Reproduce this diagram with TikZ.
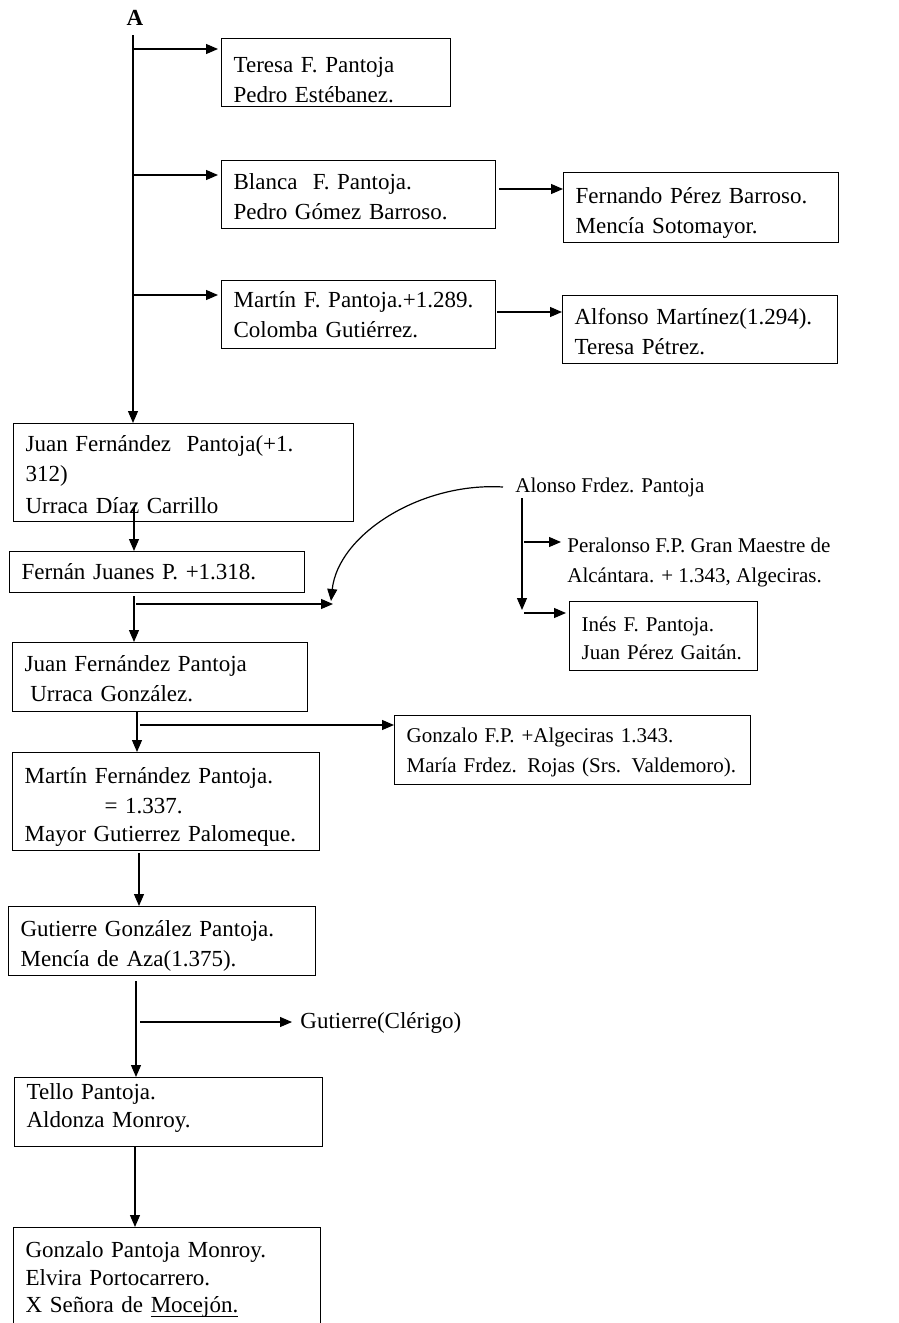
\documentclass[tikz,border=0pt]{standalone}
\usepackage{fontspec}
\setmainfont{Liberation Serif}
\usetikzlibrary{arrows.meta,calc}
\newcommand\ulword[1]{\setbox0\hbox{#1}\rlap{\rule[-2.4pt]{\wd0}{0.55pt}}\box0}
\begin{document}
\hyphenpenalty=10000
\begin{tikzpicture}[x=0.5pt,y=-0.5pt,
  every node/.style={font=\fontsize{11.5}{15}\selectfont},
  small/.style={font=\fontsize{10.5}{15}\selectfont},
  pbox/.style={draw, line width=0.6pt, anchor=north west, align=left, inner xsep=6pt, inner ysep=2pt},
  arr/.style={line width=0.6pt, -{Triangle[length=6pt,width=5pt]}},
  free/.style={inner xsep=0pt, inner ysep=0pt, align=left}]
\useasboundingbox (0,0) rectangle (899,1323);
\clip (0,0) rectangle (899,1323);
\fill[white] (0,0) rectangle (899,1323);

% nodes
\node[font=\fontsize{11.5}{15}\selectfont\bfseries, inner sep=0pt] (A) at (135,18) {A};
\node[pbox, inner ysep=0.5pt, text width=102.5pt, minimum height=34pt] (teresa) at (221,38) {\rule{0pt}{15pt}Teresa F. Pantoja\\Pedro Estébanez.};
\node[pbox, text width=125pt, minimum height=34pt] (blanca) at (221,160) {\rule{0pt}{10pt}Blanca~ F. Pantoja.\\Pedro Gómez Barroso.};
\node[pbox, text width=125.5pt, minimum height=34.5pt] (fernando) at (563,172) {\rule{0pt}{13.5pt}Fernando Pérez Barroso.\\Mencía Sotomayor.};
\node[pbox, text width=125pt, minimum height=34pt] (martinf) at (221,280) {Martín F. Pantoja.+1.289.\\Colomba Gutiérrez.};
\node[pbox, text width=125.5pt, minimum height=34pt] (alfonso) at (562,295) {\rule{0pt}{10.5pt}Alfonso Martínez(1.294).\\Teresa Pétrez.};
\node[pbox, text width=158pt, minimum height=49pt] (juan1) at (13,423) {\rule{0pt}{10pt}Juan Fernández~ Pantoja(+1.\\312)\\[1pt]Urraca Díaz Carrillo};
\node[pbox, text width=135.5pt, minimum height=20.5pt] (fernan) at (9,551) {Fernán Juanes P. +1.318.};
\node[pbox, text width=135.5pt, minimum height=34.5pt] (juan2) at (12,642) {\rule{0pt}{10pt}Juan Fernández Pantoja\\\hspace*{0.25em}Urraca González.};
\node[pbox, small, text width=166pt, minimum height=34.5pt] (gonzalofp) at (394,715) {\rule{0pt}{10pt}Gonzalo F.P. +Algeciras 1.343.\\María Frdez. Rojas (Srs. Valdemoro).};
\node[pbox, small, text width=82pt, minimum height=34.5pt] (ines) at (569,601) {\rule{0pt}{9.5pt}Inés F. Pantoja.\\[-1pt]Juan Pérez Gaitán.};
\node[pbox, text width=141.5pt, minimum height=49pt] (martin2) at (12,752) {\rule{0pt}{13.5pt}Martín Fernández Pantoja.\\\hspace*{40pt}= 1.337.\\[-1pt]Mayor Gutierrez Palomeque.};
\node[pbox, text width=141.5pt, minimum height=34.5pt] (gutierre) at (8,906) {\rule{0pt}{12.5pt}Gutierre González Pantoja.\\Mencía de Aza(1.375).};
\node[pbox, text width=142pt, minimum height=34.5pt] (tello) at (14,1077) {Tello Pantoja.\\[-1pt]Aldonza Monroy.\rule[-7pt]{0pt}{0pt}};
\node[pbox, text width=141.5pt, minimum height=56pt] (gonzalo) at (13,1227) {Gonzalo Pantoja Monroy.\\[-1.2pt]Elvira Portocarrero.\\[-1.2pt]X Señora de \ulword{Mocejón.}\rule[-6.5pt]{0pt}{0pt}};

\node[free, small, anchor=west, inner xsep=6pt] (alonso) at (503,487) {Alonso Frdez. Pantoja};
\node[free, small, anchor=north west] (peralonso) at (567,538) {Peralonso F.P. Gran Maestre de\\Alcántara. + 1.343, Algeciras.};
\node[free, anchor=west, inner xsep=4pt] (clerigo) at (292,1023) {Gutierre(Clérigo)};

% main line
\coordinate (top) at (133,35);
\draw[arr] (top) -- (top |- juan1.north);
\coordinate (b1) at (133,49);
\coordinate (b2) at (133,175);
\coordinate (b3) at (133,295);
\draw[arr, shorten >=1.5pt] (b1) -- (b1 -| teresa.west);
\draw[arr, shorten >=1.5pt] (b2) -- (b2 -| blanca.west);
\draw[arr, shorten >=1.5pt] (b3) -- (b3 -| martinf.west);
\coordinate (c1) at (499,189);
\coordinate (c2) at (497,312);
\draw[arr] (c1) -- (c1 -| fernando.west);
\draw[arr] (c2) -- (c2 -| alfonso.west);

% Juan -> Fernan
\coordinate (d1) at (134,507);
\draw[arr] (d1) -- (d1 |- fernan.north);
\coordinate (d2) at (134,596);
\draw[arr] (d2) -- (d2 |- juan2.north);
\coordinate (d3) at (136,604);
\coordinate (m) at (333,604);
\draw[arr] (d3) -- (m);
\coordinate (m2) at (331,601);
\draw[arr] (alonso.west) .. controls (420,482) and (338,535) .. (m2);

% Alonso descendants
\coordinate (e1) at (522,498);
\coordinate (e2) at (522,610);
\draw[arr] (e1) -- (e2);
\coordinate (e3) at (524,542);
\draw[arr, shorten >=3pt] (e3) -- (e3 -| peralonso.west);
\coordinate (e4) at (524,613);
\draw[arr, shorten >=1.5pt] (e4) -- (e4 -| ines.west);

% lower chain
\coordinate (f1) at (137,711);
\draw[arr] (f1) -- (f1 |- martin2.north);
\coordinate (f2) at (140,725);
\draw[arr] (f2) -- (f2 -| gonzalofp.west);
\coordinate (g1) at (139,853);
\draw[arr] (g1) -- (g1 |- gutierre.north);
\coordinate (h1) at (136,981);
\draw[arr] (h1) -- (h1 |- tello.north);
\coordinate (h2) at (140,1022);
\draw[arr] (h2) -- (h2 -| clerigo.west);
\coordinate (k1) at (135,1147);
\draw[arr] (k1) -- (k1 |- gonzalo.north);
\end{tikzpicture}
\end{document}
